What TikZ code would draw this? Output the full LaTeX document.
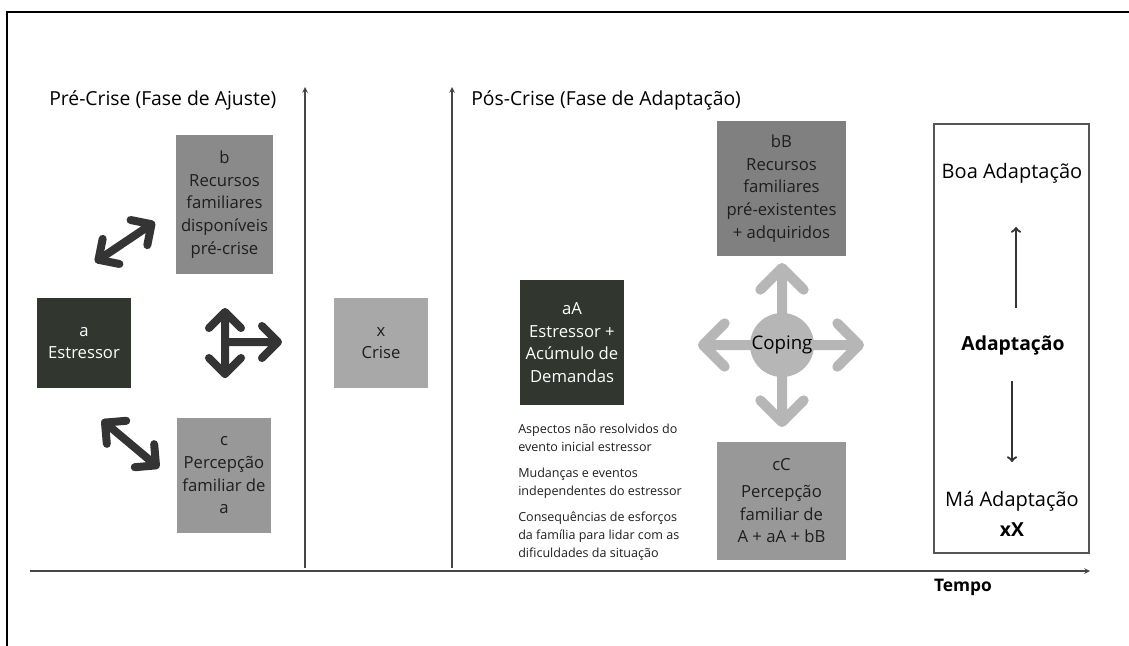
\documentclass[tikz,border=0pt]{standalone}
\usepackage{fontspec}
\setmainfont{Open Sans}
\usetikzlibrary{arrows}

\begin{document}
\begin{tikzpicture}[x=0.75pt,y=-0.75pt,
    box/.style={rectangle,inner sep=0pt,align=center,font=\fontsize{12.5}{17}\selectfont},
    smalltxt/.style={anchor=west,align=left,inner sep=0pt,text=dr_text,font=\fontsize{9.4}{13.5}\selectfont},
    thickarr/.style={line width=6pt,color=dr_arrow,line cap=round,line join=round},
    coparr/.style={line width=7.5pt,color=dr_coping,line cap=round,line join=round},
    axis/.style={line width=0.9pt,color=dr_axis,>=stealth,->},
    adarr/.style={line width=1.7pt,color=dr_arrow,>=to,->}]

% ------------------------------------------------ diagram colors
\definecolor{dr_dark}{RGB}{49,54,47}      %#31362F
\definecolor{dr_mid}{RGB}{138,138,138}    %#8A8A8A
\definecolor{dr_midB}{RGB}{128,128,128}   %#808080
\definecolor{dr_midC}{RGB}{152,152,152}   %#989898
\definecolor{dr_light}{RGB}{168,168,168}  %#A8A8A8
\definecolor{dr_coping}{RGB}{182,182,182} %#B6B6B6
\definecolor{dr_arrow}{RGB}{52,52,52}     %#343434
\definecolor{dr_axis}{RGB}{70,70,70}      %#464646
\definecolor{dr_text}{RGB}{30,30,30}      %#1E1E1E
\definecolor{dr_frame}{RGB}{85,85,85}     %#555555

\useasboundingbox (0,0) rectangle (1129,646);

% outer frame
\coordinate (fr_bl) at (7,646);
\coordinate (fr_tl) at (7,12);
\coordinate (fr_tr) at (1129,12);
\draw[line width=1.5pt] (fr_bl) -- (fr_tl) -- (fr_tr);

% time axis + phase axes
\coordinate (t_start) at (30,571);
\coordinate (t_end)   at (1090,571);
\coordinate (pre_bot) at (305,568);
\coordinate (pre_top) at (305,87);
\coordinate (pos_bot) at (452,568);
\coordinate (pos_top) at (452,87);
\draw[axis] (t_start) -- (t_end);
\draw[axis] (pre_bot) -- (pre_top);
\draw[axis] (pos_bot) -- (pos_top);
\node[font=\bfseries\fontsize{13}{15}\selectfont] (tempo) at (963,587) {Tempo};

\node[anchor=west,inner sep=0pt,font=\fontsize{14.5}{16}\selectfont] (pretitle) at (49,100) {Pré-Crise (Fase de Ajuste)};
\node[anchor=west,inner sep=0pt,font=\fontsize{14.5}{16}\selectfont] (postitle) at (471,100) {Pós-Crise (Fase de Adaptação)};

% ------------------------------------------------ pre-crise
\node[box,fill=dr_dark,text=white,minimum width=70.5pt,minimum height=67.5pt] (a) at (84,343) {a\\Estressor};
\node[box,fill=dr_mid,text=dr_text,minimum width=72.75pt,minimum height=104.25pt] (b) at (224.5,204.5)
  {b\\Recursos\\familiares\\disponíveis\\pré-crise};
\node[box,fill=dr_midC,text=dr_text,minimum width=70.5pt,minimum height=86.25pt] (c) at (224,475.5)
  {c\\Percepção\\familiar de\\a};
\node[box,fill=dr_light,text=dr_text,minimum width=70.5pt,minimum height=67.5pt] (x) at (381,343) {x\\Crise};

% a <-> b
\coordinate (ab_sw) at (98.5,259.8);
\coordinate (ab_ne) at (151.5,224.2);
\draw[thickarr] (ab_sw) -- (ab_ne) ++(168.7:16pt) -- (ab_ne) -- ++(-101.3:16pt);
\draw[thickarr] (ab_sw) ++(-11.3:16pt) -- (ab_sw) -- ++(78.7:16pt);

% a <-> c
\coordinate (ac_nw) at (105,422.6);
\coordinate (ac_se) at (156,465.4);
\draw[thickarr] (ac_nw) -- (ac_se) ++(94.9:16pt) -- (ac_se) -- ++(-175.1:16pt);
\draw[thickarr] (ac_nw) ++(-85.1:16pt) -- (ac_nw) -- ++(4.9:16pt);

% b <-> c, -> x
\coordinate (bc_n) at (225,312);
\coordinate (bc_s) at (225,374);
\coordinate (bc_m) at (225,342);
\coordinate (bc_e) at (278,342);
\draw[thickarr] (bc_s) -- (bc_n) ++(-45:17pt) -- (bc_n) -- ++(-135:17pt);
\draw[thickarr] (bc_s) ++(45:17pt) -- (bc_s) -- ++(135:17pt);
\draw[thickarr] (bc_m) -- (bc_e) ++(135:17pt) -- (bc_e) -- ++(-135:17pt);

% ------------------------------------------------ pos-crise
\node[box,fill=dr_dark,text=white,minimum width=78pt,minimum height=93.75pt] (aA) at (572,342.5)
  {aA\\Estressor +\\Acúmulo de\\Demandas};
\node[box,fill=dr_midB,text=dr_text,minimum width=96.75pt,minimum height=101.25pt] (bB) at (781.5,188.5)
  {bB\\Recursos\\familiares\\pré-existentes\\+ adquiridos};
\node[box,fill=dr_midC,text=dr_text,minimum width=96.75pt,minimum height=88.5pt] (cC) at (781.5,501)
  {cC\\[3pt]Percepção\\familiar de\\A + aA + bB};

\node[smalltxt] (dem1) at (518,438) {Aspectos não resolvidos do\\evento inicial estressor};
\node[smalltxt] (dem2) at (518,483) {Mudanças e eventos\\independentes do estressor};
\node[smalltxt] (dem3) at (518,536) {Consequências de esforços\\da família para lidar com as\\dificuldades da situação};

% coping cross
\coordinate (cop)   at (782,345);
\coordinate (cop_n) at (782,268);
\coordinate (cop_s) at (782,422);
\coordinate (cop_w) at (703,345);
\coordinate (cop_e) at (859,345);
\draw[coparr] (cop) -- (cop_n) ++(-45:23pt) -- (cop_n) -- ++(-135:23pt);
\draw[coparr] (cop) -- (cop_s) ++(45:23pt) -- (cop_s) -- ++(135:23pt);
\draw[coparr] (cop) -- (cop_w) ++(45:23pt) -- (cop_w) -- ++(-45:23pt);
\draw[coparr] (cop) -- (cop_e) ++(135:23pt) -- (cop_e) -- ++(-135:23pt);
\node[circle,fill=dr_coping,minimum size=48pt,inner sep=0pt,text=black,font=\fontsize{14}{16}\selectfont] (coping) at (cop) {Coping};

% ------------------------------------------------ outcome
\node[draw=dr_frame,line width=1.1pt,minimum width=116.25pt,minimum height=321.75pt,inner sep=0pt] (outcome) at (1011.5,338.5) {};
\node[font=\fontsize{15}{17}\selectfont] (boa) at (1012,173) {Boa Adaptação};
\node[font=\bfseries\fontsize{14.5}{17}\selectfont] (adapt) at (1013,345) {Adaptação};
\node[font=\fontsize{15}{17}\selectfont] (ma) at (1012,501) {Má Adaptação};
\node[font=\bfseries\fontsize{14.5}{17}\selectfont] (xX) at (1012,530) {xX};
\coordinate (up_0) at (1016,308);
\coordinate (up_1) at (1016,227);
\coordinate (dn_0) at (1012,381);
\coordinate (dn_1) at (1012,462);
\draw[adarr] (up_0) -- (up_1);
\draw[adarr] (dn_0) -- (dn_1);

\end{tikzpicture}
\end{document}
